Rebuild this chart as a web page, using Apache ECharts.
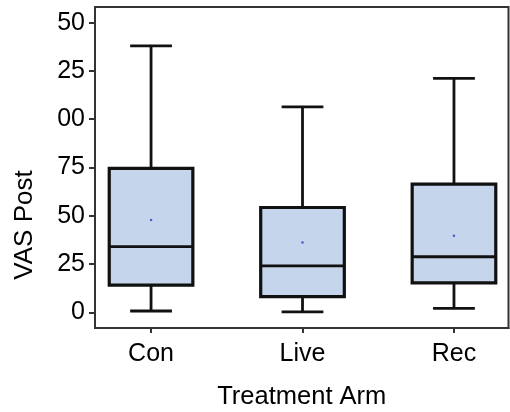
<!DOCTYPE html>
<html>
<head>
<meta charset="utf-8">
<script src="https://cdn.jsdelivr.net/npm/echarts@6/dist/echarts.min.js"></script>
<style>
  html, body { margin: 0; padding: 0; background: #fff; }
  #chart { width: 510px; height: 412px; }
</style>
</head>
<body>
<div id="chart"></div>
<script>
// ---- data ----
const categories = ['Con', 'Live', 'Rec'];
const minV  = [0.7, 0.3, 2.1];
const q1V   = [14.1, 8.1, 15.3];
const medV  = [34.0, 24.1, 28.8];
const q3V   = [74.5, 54.3, 66.4];
const maxV  = [138.0, 106.4, 121.1];
const meanV = [47.8, 36.2, 39.6];
const yTickValues = [0, 25, 50, 75, 100, 125, 150];
const yTickLabels = ['0', '25', '50', '75', '00', '25', '50']; // as visible (left digits clipped in reference)
const xTickValues = [1, 2, 3];

const FONT = '"Liberation Sans", Arial, sans-serif';
const BOX_W = 0.552;   // box width in category units

const seriesData = categories.map((c, i) => [i + 1, minV[i], q1V[i], medV[i], q3V[i], maxV[i], meanV[i]]);

const chart = echarts.init(document.getElementById('chart'), null, { renderer: 'canvas' });

chart.setOption({
  animation: false,
  backgroundColor: '#ffffff',
  grid: {
    left: 95, right: 1.5, top: 7, bottom: 84,
    outerBoundsMode: 'none',
    containLabel: false,
    show: true, borderColor: '#333', borderWidth: 2
  },
  xAxis: {
    type: 'value',
    min: 0.63, max: 3.36,
    name: 'Treatment Arm',
    nameLocation: 'middle',
    nameGap: 56,
    nameTextStyle: { fontFamily: FONT, fontSize: 25.5, color: '#000' },
    axisLine: { show: true, onZero: false, lineStyle: { color: '#333', width: 2 } },
    axisTick: { show: true, customValues: xTickValues, length: 5, lineStyle: { color: '#333', width: 2 } },
    axisLabel: {
      customValues: xTickValues,
      formatter: v => categories[Math.round(v) - 1] || '',
      fontFamily: FONT, fontSize: 25, color: '#000', margin: 14
    },
    splitLine: { show: false }
  },
  yAxis: {
    type: 'value',
    min: -8.1, max: 158.1,
    name: 'VAS Post',
    nameLocation: 'middle',
    nameGap: 57,
    nameTextStyle: { fontFamily: FONT, fontSize: 26, color: '#000', padding: [0, 115, 0, 0] },
    axisLine: { show: true, onZero: false, lineStyle: { color: '#333', width: 2 } },
    axisTick: { show: true, customValues: yTickValues, length: 6, lineStyle: { color: '#333', width: 2 } },
    axisLabel: {
      customValues: yTickValues,
      formatter: v => yTickLabels[yTickValues.indexOf(Math.round(v))] ?? '',
      fontFamily: FONT, fontSize: 25, color: '#000', margin: 10
    },
    splitLine: { show: false }
  },
  series: [{
    type: 'custom',
    clip: false,
    data: seriesData,
    encode: { x: 0, y: [1, 2, 3, 4, 5, 6] },
    renderItem: function (params, api) {
      const x = api.value(0);
      const lo = api.coord([x, api.value(1)]);
      const q1 = api.coord([x, api.value(2)]);
      const md = api.coord([x, api.value(3)]);
      const q3 = api.coord([x, api.value(4)]);
      const hi = api.coord([x, api.value(5)]);
      const mn = api.coord([x, api.value(6)]);
      const bw = api.size([BOX_W, 0])[0];
      const cw = bw / 2;
      const cx = q1[0];
      const lineStyle = { stroke: '#111', lineWidth: 2.8 };
      return {
        type: 'group',
        children: [
          { type: 'line', shape: { x1: cx, y1: hi[1], x2: cx, y2: q3[1] }, style: lineStyle },
          { type: 'line', shape: { x1: cx, y1: q1[1], x2: cx, y2: lo[1] }, style: lineStyle },
          { type: 'line', shape: { x1: cx - cw / 2, y1: hi[1], x2: cx + cw / 2, y2: hi[1] }, style: lineStyle },
          { type: 'line', shape: { x1: cx - cw / 2, y1: lo[1], x2: cx + cw / 2, y2: lo[1] }, style: lineStyle },
          { type: 'rect', shape: { x: cx - bw / 2, y: q3[1], width: bw, height: q1[1] - q3[1] },
            style: { fill: '#c5d6ec', stroke: '#111', lineWidth: 3.2 } },
          { type: 'line', shape: { x1: cx - bw / 2, y1: md[1], x2: cx + bw / 2, y2: md[1] }, style: lineStyle },
          { type: 'circle', shape: { cx: cx, cy: mn[1], r: 1.3 }, style: { fill: '#4a5fd0' } }
        ]
      };
    }
  }]
});
</script>
</body>
</html>
